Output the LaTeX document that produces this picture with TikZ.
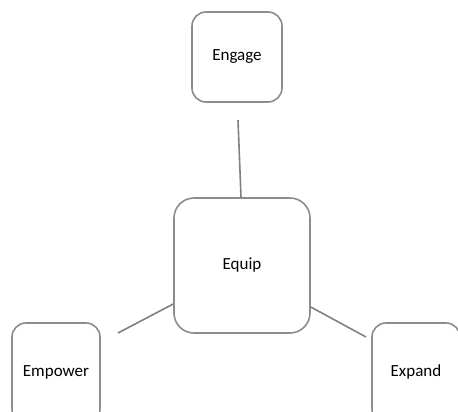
\documentclass[tikz,border=0pt]{standalone}
\usepackage{fontspec}
\setmainfont{Carlito}
\begin{document}
\begin{tikzpicture}[x=1pt,y=-1pt,
  box/.style={draw=black!45, line width=1.6pt, fill=white, rounded corners=#1, font=\fontsize{17}{19}\selectfont, text=black},
  box/.default=14pt,
  link/.style={draw=black!50, line width=1.6pt}]
\useasboundingbox (0,0) rectangle (458,412);
\node[box, minimum width=90pt, minimum height=90pt] (engage) at (237,57) {Engage};
\node[box=20pt, minimum width=136pt, minimum height=135pt] (equip) at (242,265.5) {Equip};
\node[box, minimum width=88pt, minimum height=100pt] (empower) at (56,373) {\raisebox{4pt}{Empower}};
\node[box, minimum width=88pt, minimum height=100pt] (expand) at (416,373) {\raisebox{4pt}{Expand}};
\coordinate (e1) at (238,120);
\coordinate (e2) at (118,333);
\coordinate (e3) at (366,337);
\draw[link] (e1) -- (equip.north -| 241,0);
\draw[link] (e2) -- (equip.west |- 0,304);
\draw[link] (e3) -- (equip.east |- 0,307);
\end{tikzpicture}
\end{document}
